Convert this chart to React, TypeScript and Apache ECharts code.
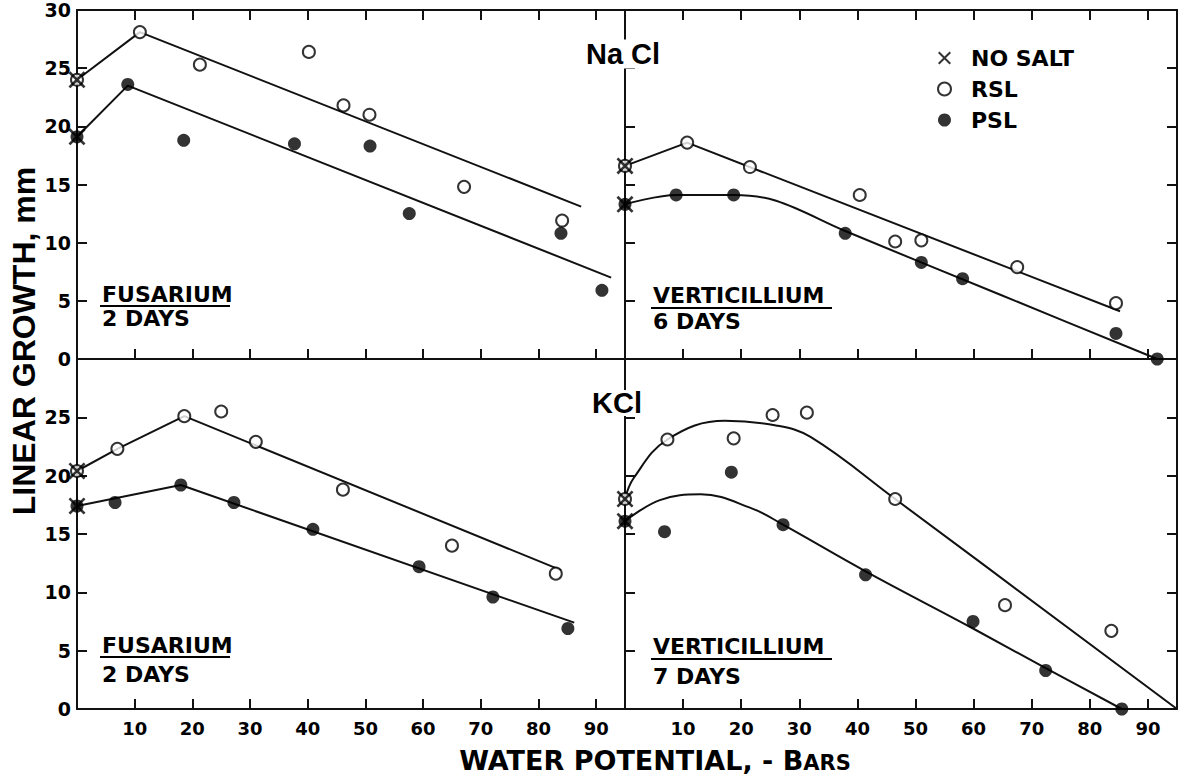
import React, { useEffect, useRef } from "react";
import * as echarts from "echarts";

// ---- Data (water potential in -bars, growth in mm) ----
// NaCl, Fusarium, 2 days
const naclFusNoSalt = [24.0, 19.1]; // [RSL, PSL] control values at 0 bars
const naclFusRsl = [[10.9, 28.1], [21.3, 25.3], [40.2, 26.4], [46.2, 21.8], [50.7, 21.0], [67.1, 14.8], [84.1, 11.9]];
const naclFusPsl = [[8.8, 23.6], [18.5, 18.8], [37.7, 18.5], [50.8, 18.3], [57.6, 12.5], [83.9, 10.8], [91.0, 5.9]];
const naclFusRslFit = [[0, 24.0], [10.9, 28.1], [87.4, 13.1]];
const naclFusPslFit = [[0, 19.1], [8.8, 23.5], [92.6, 7.0]];

// NaCl, Verticillium, 6 days
const naclVerNoSalt = [16.6, 13.3];
const naclVerRsl = [[10.7, 18.6], [21.5, 16.5], [40.4, 14.1], [46.5, 10.1], [51.0, 10.2], [67.5, 7.9], [84.5, 4.8]];
const naclVerPsl = [[8.8, 14.1], [18.7, 14.1], [37.9, 10.8], [51.0, 8.3], [58.1, 6.9], [84.5, 2.2], [91.6, 0]];
const naclVerRslFit = [[0, 16.6], [10.7, 18.6], [85.2, 4.1]];
const naclVerPslFit = [[0, 13.3], [8.8, 14.1], [18.7, 14.1], [26.0, 13.6], [37.9, 11.0], [64.7, 5.5], [91.6, 0]];

// KCl, Fusarium, 2 days
const kclFusNoSalt = [20.4, 17.4];
const kclFusRsl = [[7.0, 22.3], [18.6, 25.1], [25.0, 25.5], [31.0, 22.9], [46.1, 18.8], [65.0, 14.0], [83.0, 11.6]];
const kclFusPsl = [[6.6, 17.7], [18.0, 19.2], [27.2, 17.7], [40.9, 15.4], [59.3, 12.2], [72.1, 9.6], [85.1, 6.9]];
const kclFusRslFit = [[0, 20.4], [7.0, 22.3], [18.6, 25.1], [83.9, 11.9]];
const kclFusPslFit = [[0, 17.4], [18.0, 19.2], [86.2, 7.4]];

// KCl, Verticillium, 7 days
const kclVerNoSalt = [18.0, 16.1];
const kclVerRsl = [[7.3, 23.1], [18.7, 23.2], [25.4, 25.2], [31.3, 25.4], [46.5, 18.0], [65.4, 8.9], [83.7, 6.7]];
const kclVerPsl = [[6.8, 15.2], [18.3, 20.3], [27.2, 15.8], [41.4, 11.5], [59.9, 7.5], [72.4, 3.3], [85.5, 0]];
const kclVerRslFit = [[0, 18.0], [1.5, 19.8], [7.3, 23.1], [17.2, 24.7], [26.0, 24.3], [32.0, 23.3], [46.5, 18.0], [95.0, 0]];
const kclVerPslFit = [[0, 16.1], [6.0, 17.9], [13.0, 18.4], [21.8, 17.2], [27.2, 15.8], [41.4, 11.8], [59.9, 6.9], [72.4, 3.5], [85.5, 0]];

const xTicks = [10, 20, 30, 40, 50, 60, 70, 80, 90];
const legendNames = ["NO SALT", "RSL", "PSL"];

// ---- Styling ----
const INK = "#111";
const FONT = '"DejaVu Sans", sans-serif';
const XPATH = "path://M0,1.1L1.1,0L5,3.9L8.9,0L10,1.1L6.1,5L10,8.9L8.9,10L5,6.1L1.1,10L0,8.9L3.9,5Z";

const xAxisDef = (gridIndex: number, position: string, showLabels: boolean) => ({
  type: "value",
  gridIndex,
  position,
  min: 0,
  max: 95,
  interval: 10,
  axisLine: { show: true, onZero: false, lineStyle: { color: INK, width: 2 } },
  axisTick: { show: true, inside: true, length: 10, lineStyle: { color: INK, width: 2 } },
  axisLabel: {
    show: showLabels,
    margin: 10,
    color: "#000",
    fontFamily: FONT,
    fontWeight: "bold",
    fontSize: 18,
    showMinLabel: false,
    showMaxLabel: false,
    formatter: (v: number) => (xTicks.indexOf(v) >= 0 ? String(v) : ""),
  },
  splitLine: { show: false },
});

const yAxisDef = (gridIndex: number, position: string, showLabels: boolean, maxLabel: number) => ({
  type: "value",
  gridIndex,
  position,
  min: 0,
  max: 30,
  interval: 5,
  axisLine: { show: true, onZero: false, lineStyle: { color: INK, width: 2 } },
  axisTick: { show: true, inside: true, length: 10, lineStyle: { color: INK, width: 2 } },
  axisLabel: {
    show: showLabels,
    margin: 6,
    color: "#000",
    fontFamily: FONT,
    fontWeight: "bold",
    fontSize: 19,
    formatter: (v: number) => (v <= maxLabel ? String(v) : ""),
  },
  splitLine: { show: false },
});

const rslStyle = { color: "#fff", borderColor: "#000", borderWidth: 2 };
const pslStyle = { color: "#000", borderColor: "#000", borderWidth: 0 };

function panelSeries(
  xi: number,
  yi: number,
  noSalt: number[],
  rsl: number[][],
  psl: number[][],
  rslFit: number[][],
  pslFit: number[][],
  smoothR: number | boolean,
  smoothP: number | boolean
) {
  const common = { xAxisIndex: xi, yAxisIndex: yi, silent: true, emphasis: { disabled: true } };
  const lineStyle = { color: INK, width: 2 };
  return [
    { ...common, type: "line", name: "RSL fit", data: rslFit, symbol: "none", smooth: smoothR, lineStyle, z: 2 },
    { ...common, type: "line", name: "PSL fit", data: pslFit, symbol: "none", smooth: smoothP, lineStyle, z: 2 },
    { ...common, type: "scatter", name: "RSL", data: rsl.concat([[0, noSalt[0]]]), symbol: "circle", symbolSize: 12, itemStyle: rslStyle, z: 3 },
    { ...common, type: "scatter", name: "PSL", data: psl.concat([[0, noSalt[1]]]), symbol: "circle", symbolSize: 13, itemStyle: pslStyle, z: 3 },
    { ...common, type: "scatter", name: "NO SALT", data: [[0, noSalt[0]], [0, noSalt[1]]], symbol: XPATH, symbolSize: 17, itemStyle: { color: "#000" }, z: 4 },
  ];
}

const L = 77;
const MID = 625;
const TOP = 10;
const ROW = 359;

const labelText = (x: number, y: number, text: string, size: number) => ({
  type: "text",
  x,
  y,
  z: 100,
  style: { text, font: `bold ${size}px "DejaVu Sans"`, fill: "#000", textAlign: "left", textVerticalAlign: "middle" },
});
const underline = (x1: number, x2: number, y: number) => ({
  type: "line",
  z: 100,
  shape: { x1, y1: y, x2, y2: y },
  style: { stroke: "#000", lineWidth: 2 },
});

const option = {
  animation: false,
  backgroundColor: "#fff",
  grid: [
    { left: L, top: TOP, width: MID - L, height: ROW - TOP, outerBoundsMode: "none" },
    { left: MID, top: TOP, width: 552, height: ROW - TOP, outerBoundsMode: "none" },
    { left: L, top: ROW, width: MID - L, height: 350, outerBoundsMode: "none" },
    { left: MID, top: ROW, width: 552, height: 350, outerBoundsMode: "none" },
  ],
  xAxis: [
    xAxisDef(0, "bottom", false),
    xAxisDef(0, "top", false),
    xAxisDef(1, "bottom", false),
    xAxisDef(1, "top", false),
    xAxisDef(2, "bottom", true),
    xAxisDef(3, "bottom", true),
  ],
  yAxis: [
    yAxisDef(0, "left", true, 30),
    yAxisDef(1, "left", false, 30),
    yAxisDef(1, "right", false, 30),
    yAxisDef(2, "left", true, 25),
    yAxisDef(3, "left", false, 30),
    yAxisDef(3, "right", false, 30),
  ],
  legend: {
    orient: "vertical",
    left: 937,
    top: 47,
    padding: 0,
    itemGap: 9,
    itemWidth: 13,
    itemHeight: 13,
    selectedMode: false,
    data: [
      { name: legendNames[0], icon: XPATH },
      { name: legendNames[1], icon: "circle" },
      { name: legendNames[2], icon: "circle" },
    ],
    textStyle: { fontFamily: FONT, fontWeight: "bold", fontSize: 22, color: "#000", lineHeight: 21, padding: [0, 0, 0, 15] },
  },
  series: [
    ...panelSeries(0, 0, naclFusNoSalt, naclFusRsl, naclFusPsl, naclFusRslFit, naclFusPslFit, false, false),
    ...panelSeries(2, 1, naclVerNoSalt, naclVerRsl, naclVerPsl, naclVerRslFit, naclVerPslFit, false, 0.35),
    ...panelSeries(4, 3, kclFusNoSalt, kclFusRsl, kclFusPsl, kclFusRslFit, kclFusPslFit, false, false),
    ...panelSeries(5, 4, kclVerNoSalt, kclVerRsl, kclVerPsl, kclVerRslFit, kclVerPslFit, 0.4, 0.4),
  ],
  graphic: [
    {
      type: "text",
      x: 24,
      y: 341,
      rotation: Math.PI / 2,
      z: 100,
      style: { text: "LINEAR GROWTH, mm", font: 'bold 32px "Liberation Sans"', fill: "#000", textAlign: "center", textVerticalAlign: "middle" },
    },
    {
      type: "text",
      x: 655,
      y: 760,
      z: 100,
      style: {
        text: "WATER POTENTIAL, - B{s|ARS}",
        font: 'bold 27px "DejaVu Sans"',
        fill: "#000",
        textAlign: "center",
        textVerticalAlign: "middle",
        rich: { s: { font: 'bold 21px "DejaVu Sans"', fill: "#000", verticalAlign: "bottom" } },
      },
    },
    {
      type: "text",
      x: 623,
      y: 54,
      z: 100,
      style: { text: "Na Cl", font: 'bold 29px "Liberation Sans"', fill: "#000", textAlign: "center", textVerticalAlign: "middle", backgroundColor: "#fff", padding: [0, 4], lineHeight: 29 },
    },
    {
      type: "text",
      x: 617,
      y: 403,
      z: 100,
      style: { text: "KCl", font: 'bold 29px "Liberation Sans"', fill: "#000", textAlign: "center", textVerticalAlign: "middle", backgroundColor: "#fff", padding: [0, 4], lineHeight: 26 },
    },
    labelText(102, 294, "FUSARIUM", 22),
    underline(100, 230, 306),
    labelText(102, 318, "2 DAYS", 22),
    labelText(653, 295, "VERTICILLIUM", 22),
    underline(651, 832, 308),
    labelText(653, 321, "6 DAYS", 22),
    labelText(102, 645, "FUSARIUM", 22),
    underline(100, 230, 657),
    labelText(102, 674, "2 DAYS", 22),
    labelText(653, 646, "VERTICILLIUM", 22),
    underline(651, 832, 659),
    labelText(653, 676, "7 DAYS", 22),
  ],
};

export default function App() {
  const ref = useRef<HTMLDivElement>(null);
  useEffect(() => {
    if (!ref.current) return;
    const chart = echarts.init(ref.current, null, { renderer: "svg" });
    chart.setOption(option as any);
    return () => chart.dispose();
  }, []);
  return (
    <div
      ref={ref}
      style={{ position: "absolute", left: 0, top: 0, width: 1191, height: 776, background: "#fff" }}
    />
  );
}
